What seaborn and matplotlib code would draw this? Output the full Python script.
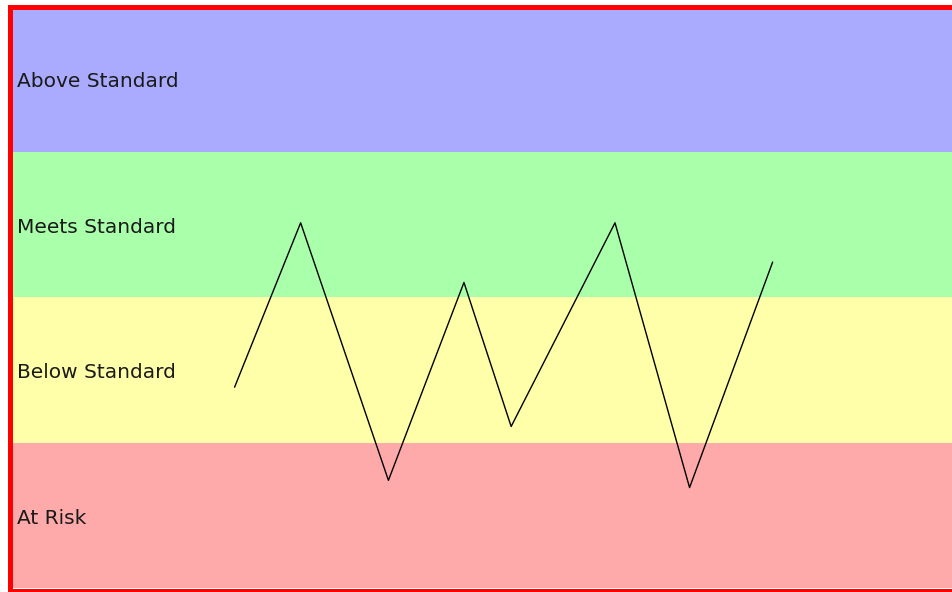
import matplotlib
matplotlib.use("Agg")
import matplotlib.pyplot as plt
from matplotlib.patches import Rectangle
import seaborn as sns
import pandas as pd

# performance bands, bottom to top
band_labels = ["At Risk", "Below Standard", "Meets Standard", "Above Standard"]
band_colors = ["#ffaaaa", "#ffffaa", "#aaffaa", "#aaaaff"]

# measured scores over time
x_vals = [24.0, 31.0, 40.3, 48.3, 53.3, 64.3, 72.2, 81.0]
scores = [1.38, 2.51, 0.74, 2.10, 1.11, 2.51, 0.69, 2.24]

df = pd.DataFrame({"x": x_vals, "score": scores})

sns.set_style("white")
plt.rcParams["font.family"] = ["DejaVu Sans"]

W, H = 952, 592
fig = plt.figure(figsize=(W / 100, H / 100), dpi=100, facecolor="white")
# axes in pixel terms: left 8, right 952, top 6, bottom 588
ax = fig.add_axes([8 / W, (H - 588) / H, 1 - 8 / W, (588 - 6) / H])

for i, (lab, col) in enumerate(zip(band_labels, band_colors)):
    ax.axhspan(i, i + 1, color=col, lw=0, zorder=0)
    ax.text(9 / 944, i + 0.48, lab, transform=ax.get_yaxis_transform(),
            va="center", ha="left", fontsize=14.5, color="#1a1a1a", zorder=3)

sns.lineplot(data=df, x="x", y="score", color="black", linewidth=1.0, ax=ax,
             zorder=2, estimator=None, sort=False)

ax.set_xlim(0, 100)
ax.set_ylim(0, len(band_labels))
ax.set_xlabel("")
ax.set_ylabel("")
ax.set_xticks([])
ax.set_yticks([])
for s in ax.spines.values():
    s.set_visible(False)


def px_rect(x0, y0, x1, y1):
    # rectangle given in pixels from the top-left corner
    fig.add_artist(Rectangle((x0 / W, 1 - y1 / H), (x1 - x0) / W, (y1 - y0) / H,
                             transform=fig.transFigure, color="red", lw=0, zorder=5))


# red frame (right side falls outside the picture)
px_rect(8, 5, 13, 592)
px_rect(8, 5, W, 10)
px_rect(8, 589, W, 592)

fig.savefig("out.png", dpi=100, facecolor="white")
